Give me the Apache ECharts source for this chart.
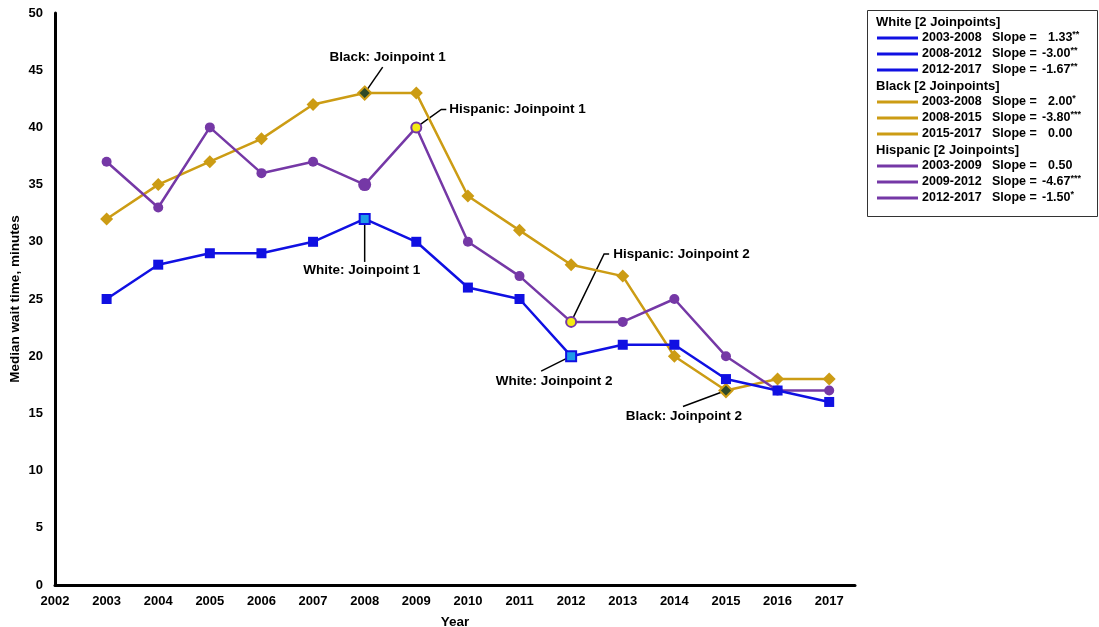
<!DOCTYPE html>
<html>
<head>
<meta charset="utf-8">
<script src="https://cdn.jsdelivr.net/npm/echarts@6/dist/echarts.min.js"></script>
<style>
  html, body { margin: 0; padding: 0; background: #ffffff; }
  #chart { width: 1099px; height: 627px; }
</style>
</head>
<body>
<div id="chart"></div>
<script>
// Median emergency department wait time by year and group
const years    = [2003, 2004, 2005, 2006, 2007, 2008, 2009, 2010, 2011, 2012, 2013, 2014, 2015, 2016, 2017];
const white    = [25, 28, 29, 29, 30, 32, 30, 26, 25, 20, 21, 21, 18, 17, 16];
const black    = [32, 35, 37, 39, 42, 43, 43, 34, 31, 28, 27, 20, 17, 18, 18];
const hispanic = [37, 33, 40, 36, 37, 35, 40, 30, 27, 23, 23, 25, 20, 17, 17];

// Joinpoint years for each group
const whiteJoin    = [2008, 2012];
const blackJoin    = [2008, 2015];
const hispanicJoin = [2009, 2012];

// Segment slopes shown in the legend box
const whiteSegments    = ['2003-2008', '2008-2012', '2012-2017'];
const whiteSlopes      = ['1.33', '-3.00', '-1.67'];
const whiteStars       = ['**', '**', '**'];
const blackSegments    = ['2003-2008', '2008-2015', '2015-2017'];
const blackSlopes      = ['2.00', '-3.80', '0.00'];
const blackStars       = ['*', '***', ''];
const hispanicSegments = ['2003-2009', '2009-2012', '2012-2017'];
const hispanicSlopes   = ['0.50', '-4.67', '-1.50'];
const hispanicStars    = ['', '***', '*'];

const yTicks = { min: 0, max: 50, step: 5 };

const FONT = '"Liberation Sans", Arial, sans-serif';
const C_WHITE = '#1010e2';
const C_BLACK = '#cc9c14';
const C_HISP  = '#7538a6';

function buildData(values, joins, joinStyle, extra) {
  return years.map((yr, i) => {
    const item = { value: [yr, values[i]] };
    if (joins.indexOf(yr) >= 0) {
      item.itemStyle = joinStyle;
    }
    if (extra && extra[yr]) Object.assign(item, extra[yr]);
    return item;
  });
}

const chart = echarts.init(document.getElementById('chart'), null, { renderer: 'canvas' });

const axisText = { color: '#000', fontFamily: FONT, fontWeight: 'bold', fontSize: 13 };
const titleText = { color: '#000', fontFamily: FONT, fontWeight: 'bold', fontSize: 13.5 };

const option = {
  animation: false,
  backgroundColor: '#ffffff',
  grid: { left: 55, right: 244, top: 13, bottom: 42, containLabel: false, outerBoundsMode: 'none' },
  xAxis: {
    type: 'value',
    min: 2002, max: 2017.5, interval: 1,
    name: 'Year', nameLocation: 'middle', nameGap: 30, nameMoveOverlap: false,
    nameTextStyle: titleText,
    axisLine: { show: true, onZero: false, lineStyle: { color: '#000', width: 3 } },
    axisTick: { show: false },
    splitLine: { show: false },
    axisLabel: Object.assign({ margin: 10, formatter: v => (v % 1 === 0 ? String(v) : '') }, axisText)
  },
  yAxis: {
    type: 'value',
    min: yTicks.min, max: yTicks.max, interval: yTicks.step,
    name: 'Median wait time, minutes', nameLocation: 'middle', nameGap: 33, nameRotate: 90,
    nameMoveOverlap: false,
    nameTextStyle: titleText,
    axisLine: { show: true, lineStyle: { color: '#000', width: 3 } },
    axisTick: { show: false },
    splitLine: { show: false },
    axisLabel: Object.assign({ margin: 12 }, axisText)
  },
  series: [
    {
      name: 'Black', type: 'line', z: 2,
      symbol: 'diamond', symbolSize: 13,
      lineStyle: { color: C_BLACK, width: 2.5 },
      itemStyle: { color: C_BLACK },
      data: buildData(black, blackJoin, { color: '#2e4a28', borderColor: C_BLACK, borderWidth: 2 })
    },
    {
      name: 'Hispanic', type: 'line', z: 3,
      symbol: 'circle', symbolSize: 10,
      lineStyle: { color: C_HISP, width: 2.5 },
      itemStyle: { color: C_HISP },
      data: buildData(hispanic, hispanicJoin, { color: '#f4ec12', borderColor: C_HISP, borderWidth: 2 },
        { 2008: { symbolSize: 13 } })
    },
    {
      name: 'White', type: 'line', z: 4,
      symbol: 'rect', symbolSize: 10,
      lineStyle: { color: C_WHITE, width: 2.5 },
      itemStyle: { color: C_WHITE },
      data: buildData(white, whiteJoin, { color: '#1e9ce8', borderColor: C_WHITE, borderWidth: 2 })
    }
  ]
};

chart.setOption(option);

// Joinpoint callouts: anchored at a data point, leader line and text offset in pixels
const callouts = [
  { text: 'Black: Joinpoint 1',    at: [2008, 43], line: [[18, -26]],            label: [23, -36], align: 'center' },
  { text: 'Hispanic: Joinpoint 1', at: [2009, 40], line: [[25, -18], [30, -18]], label: [33, -18], align: 'left' },
  { text: 'White: Joinpoint 1',    at: [2008, 32], line: [[0, 43]],              label: [-3, 51],  align: 'center' },
  { text: 'Hispanic: Joinpoint 2', at: [2012, 23], line: [[33, -68], [38, -68]], label: [42, -68], align: 'left' },
  { text: 'White: Joinpoint 2',    at: [2012, 20], line: [[-30, 15]],            label: [-17, 25], align: 'center' },
  { text: 'Black: Joinpoint 2',    at: [2015, 17], line: [[-43, 16]],            label: [-42, 26], align: 'center' }
];

const graphics = [];
callouts.forEach(c => {
  const p = chart.convertToPixel({ gridIndex: 0 }, c.at);
  const pts = [[p[0], p[1]]].concat(c.line.map(o => [p[0] + o[0], p[1] + o[1]]));
  graphics.push({
    type: 'polyline', z: 1,
    shape: { points: pts },
    style: { stroke: '#000', lineWidth: 1.5, fill: null }
  });
  graphics.push({
    type: 'text', z: 10,
    x: p[0] + c.label[0], y: p[1] + c.label[1],
    style: {
      text: c.text, fill: '#000', font: 'bold 13.5px ' + FONT,
      align: c.align, verticalAlign: 'middle'
    }
  });
});

// Legend box with segment slopes
const LX = 867, LY = 10, LW = 230, LH = 206;
const LTITLE = 'bold 13px ' + FONT;
const LFONT = 'bold 12.5px ' + FONT;
graphics.push({
  type: 'rect', z: 20,
  shape: { x: LX + 0.5, y: LY + 0.5, width: LW, height: LH },
  style: { fill: '#fff', stroke: '#333', lineWidth: 1 }
});
const groups = [
  { title: 'White [2 Joinpoints]',    color: C_WHITE, seg: whiteSegments,    slope: whiteSlopes,    stars: whiteStars },
  { title: 'Black [2 Joinpoints]',    color: C_BLACK, seg: blackSegments,    slope: blackSlopes,    stars: blackStars },
  { title: 'Hispanic [2 Joinpoints]', color: C_HISP,  seg: hispanicSegments, slope: hispanicSlopes, stars: hispanicStars }
];
let rowY = 22;
groups.forEach(g => {
  graphics.push({
    type: 'text', z: 21, x: 876, y: rowY,
    style: { text: g.title, fill: '#000', font: LTITLE, verticalAlign: 'middle' }
  });
  rowY += 16;
  g.seg.forEach((s, i) => {
    graphics.push({
      type: 'line', z: 21,
      shape: { x1: 877, y1: rowY, x2: 918, y2: rowY },
      style: { stroke: g.color, lineWidth: 3 }
    });
    graphics.push({
      type: 'text', z: 21, x: 922, y: rowY,
      style: { text: s, fill: '#000', font: LFONT, verticalAlign: 'middle' }
    });
    graphics.push({
      type: 'text', z: 21, x: 992, y: rowY,
      style: { text: 'Slope =', fill: '#000', font: LFONT, verticalAlign: 'middle' }
    });
    const neg = g.slope[i].charAt(0) === '-';
    graphics.push({
      type: 'text', z: 21, x: neg ? 1042 : 1048, y: rowY,
      style: {
        text: g.slope[i] + (g.stars[i] ? '{s|' + g.stars[i] + '}' : ''),
        fill: '#000', font: LFONT, verticalAlign: 'middle',
        rich: { s: { fontSize: 9, fontWeight: 'bold', fontFamily: FONT, verticalAlign: 'top', padding: [0, 0, 6, 0], fill: '#000' } }
      }
    });
    rowY += 16;
  });
});

chart.setOption({ graphic: { elements: graphics } });
</script>
</body>
</html>
